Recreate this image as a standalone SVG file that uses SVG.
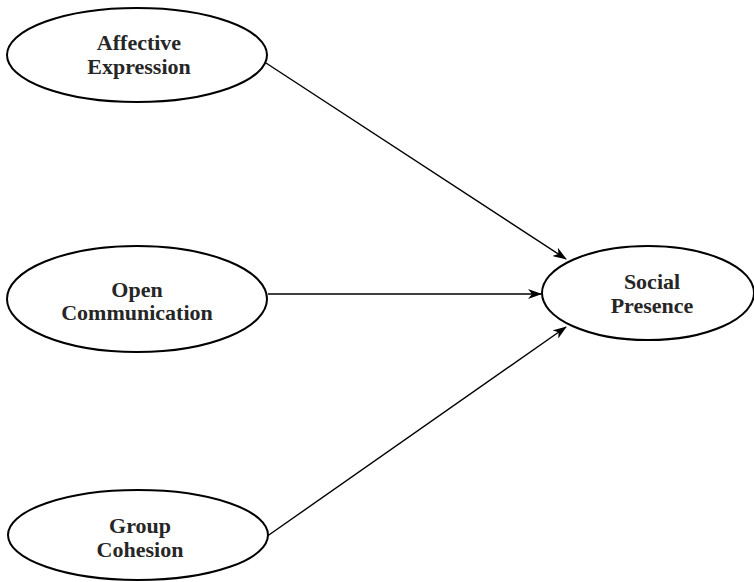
<svg xmlns="http://www.w3.org/2000/svg" width="754" height="582" viewBox="0 0 754 582">
<style>
.node ellipse{fill:#fff;stroke:#000;stroke-width:2}
.node text{font-family:"Liberation Serif","Times New Roman",serif;font-weight:bold;font-size:22px;fill:#262626;text-anchor:middle}
.edges line{stroke:#000;stroke-width:1.4;fill:none;marker-end:url(#arr)}
</style>
<defs>
<marker id="arr" viewBox="0 0 14 10" refX="13" refY="5" markerWidth="14" markerHeight="10" markerUnits="userSpaceOnUse" orient="auto">
<path d="M0,0 L14,5 L0,10 L4,5 z" fill="#000"/>
</marker>
</defs>
<rect width="754" height="582" fill="#fff"/>
<g class="edges">
<line x1="266" y1="63" x2="566" y2="259"/>
<line x1="268" y1="294" x2="541" y2="294"/>
<line x1="266" y1="537" x2="566" y2="327"/>
</g>
<g id="affective" class="node">
<ellipse cx="137" cy="55" rx="130" ry="47"/>
<text x="139" y="50">Affective</text>
<text x="139" y="74">Expression</text>
</g>
<g id="open" class="node">
<ellipse cx="137" cy="299" rx="130" ry="53"/>
<text x="137" y="297">Open</text>
<text x="137" y="320">Communication</text>
</g>
<g id="group" class="node">
<ellipse cx="138" cy="535" rx="130" ry="45"/>
<text x="140" y="533">Group</text>
<text x="140" y="557">Cohesion</text>
</g>
<g id="social" class="node">
<ellipse cx="648" cy="293" rx="106" ry="47"/>
<text x="652" y="289">Social</text>
<text x="652" y="313">Presence</text>
</g>
</svg>
